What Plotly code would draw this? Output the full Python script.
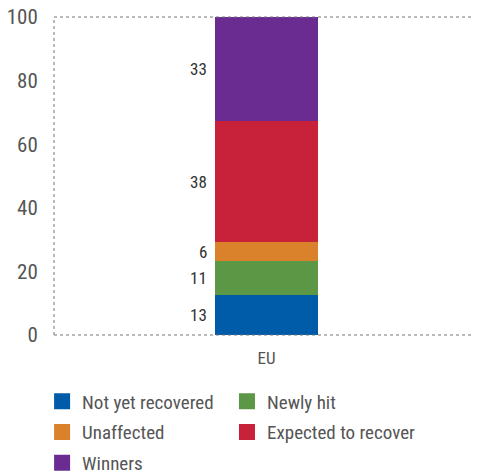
import plotly.graph_objects as go

categories = ["EU"]
series = ["Not yet recovered", "Newly hit", "Unaffected", "Expected to recover", "Winners"]
values = [12.6, 10.7, 5.8, 38.1, 32.9]
colors = ["#005ba9", "#5b9745", "#d9822b", "#c8223a", "#6b2c91"]
legend_col = ["legend", "legend2", "legend", "legend2", "legend"]
y_ticks = [0, 20, 40, 60, 80, 100]

FONT = "Roboto Condensed, sans-serif"

fig = go.Figure()

for name, val, col, lg in zip(series, values, colors, legend_col):
    fig.add_trace(go.Bar(
        x=categories, y=[val], name=name,
        marker=dict(color=col, line=dict(width=0)),
        width=0.242, showlegend=False,
    ))
    # legend marker as a bigger square
    fig.add_trace(go.Scatter(
        x=[None], y=[None], mode="markers", name=name,
        legend=lg, legendgroup=name,
        marker=dict(symbol="square", size=16, color=col),
    ))

# value labels to the left of each segment
base = 0
for val in values:
    fig.add_annotation(
        x=categories[0], y=base + val / 2, text=f"{val:.0f}",
        showarrow=False, xanchor="right", xshift=-58,
        font=dict(family=FONT, size=17, color="#333333"),
    )
    base += val

# dotted frame: top, left, bottom
for x0, y0, x1, y1 in [(0, 1, 1, 1), (0, 0, 0, 1), (0, 0, 1, 0)]:
    fig.add_shape(type="line", xref="paper", yref="paper",
                  x0=x0, y0=y0, x1=x1, y1=y1,
                  line=dict(color="#777777", width=1, dash="dot"))

leg_style = dict(orientation="v", xanchor="left", y=-0.149, yanchor="top",
                 tracegroupgap=3, traceorder="grouped",
                 font=dict(size=19, color="#555555"))

# page body has an 8px margin, so the figure is a bit smaller than the window
fig.update_layout(
    barmode="stack",
    width=471, height=466,
    margin=dict(l=46, r=0, t=9, b=139, autoexpand=False),
    plot_bgcolor="white", paper_bgcolor="white",
    font=dict(family=FONT, color="#555555"),
    xaxis=dict(showgrid=False, showline=False, zeroline=False, automargin=False,
               tickfont=dict(size=17, color="#555555"),
               ticks="outside", ticklen=8, tickcolor="rgba(0,0,0,0)"),
    yaxis=dict(range=[0, 100], tickvals=y_ticks, showgrid=False,
               showline=False, zeroline=False, automargin=False,
               ticklabeloverflow="allow",
               tickfont=dict(size=21, color="#555555"),
               ticks="outside", ticklen=11, tickcolor="rgba(0,0,0,0)"),
    legend=dict(x=-0.028, **leg_style),
    legend2=dict(x=0.407, **leg_style),
)

fig.write_html("out.html")
